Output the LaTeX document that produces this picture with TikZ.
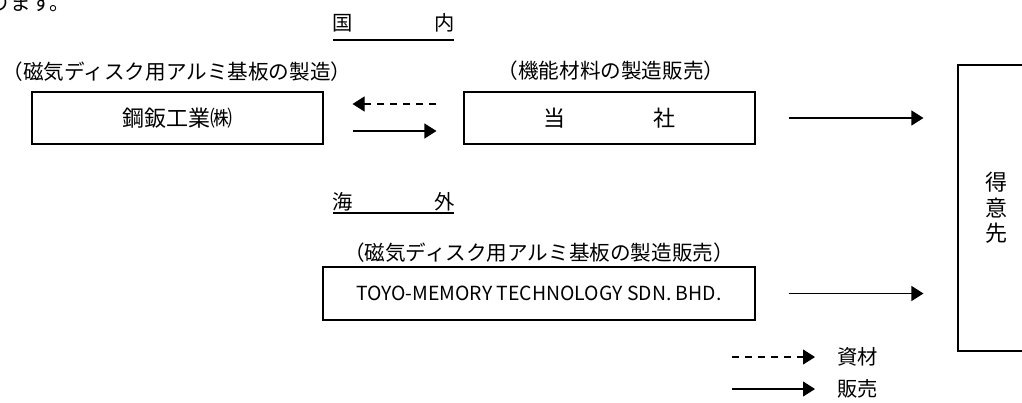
\documentclass[tikz,border=0pt]{standalone}
\usepackage{fontspec}
\setmainfont{Noto Sans CJK JP}
\usetikzlibrary{arrows.meta}

\begin{document}
\begin{tikzpicture}[x=1pt,y=-1pt,
        firmbox/.style={draw, line width=1.1pt, minimum width=291pt, minimum height=52pt,
            inner sep=0pt, font=\fontsize{22}{26}\selectfont},
        caption/.style={inner sep=0pt, font=\fontsize{20.6}{24}\selectfont},
        sales/.style={line width=1.1pt, -{Triangle[length=12pt,width=15pt]}},
        supply/.style={sales, dash pattern=on 7pt off 6pt}]
    \useasboundingbox (0,0) rectangle (1022,402);
    \clip (0,0) rectangle (1022,402);

    % Line cut off above the picture
    \node[caption, anchor=west] (prevline) at (-10,3) {ります。};

    % Headings
    \node[caption, font=\fontsize{20.3}{24}\selectfont] (kokunai) at (393.5,23) {国　　　　内};
    \draw[line width=1.1pt] (333,40) -- (454,40);
    \node[caption, font=\fontsize{20.3}{24}\selectfont] (kaigai) at (393.5,202) {海　　　　外};
    \draw[line width=1.1pt] (333,213) -- (454,213);

    % Companies
    \node[caption] (kohancap) at (177,72) {（磁気ディスク用アルミ基板の製造）};
    \node[firmbox] (kohan) at (177.5,118) {鋼鈑工業㈱};
    \node[caption] (toshacap) at (611,71) {（機能材料の製造販売）};
    \node[firmbox] (tosha) at (609.5,118) {当　　　　社};
    \node[caption] (toyocap) at (539,253) {（磁気ディスク用アルミ基板の製造販売）};
    \node[firmbox, minimum width=432pt, minimum height=53pt, font=\fontsize{19.4}{24}\selectfont]
        (toyo) at (539,293.5) {TOYO-MEMORY TECHNOLOGY SDN. BHD.};

    % Customers
    \node[firmbox, minimum width=76pt, minimum height=286pt, align=center,
        font=\fontsize{22}{25.5}\selectfont] (tokui) at (996,208) {得\\意\\先};

    % Arrows
    \draw[supply, shorten <=27pt, shorten >=29pt] ([yshift=14pt]tosha.west) -- ([yshift=14pt]kohan.east);
    \draw[sales, shorten <=29pt, shorten >=27pt] ([yshift=-13pt]kohan.east) -- ([yshift=-13pt]tosha.west);
    \draw[sales, shorten <=33pt, shorten >=34pt] (tosha.east) -- (tosha.east -| tokui.west);
    \draw[sales, shorten <=33pt, shorten >=34pt] (toyo.east) -- (toyo.east -| tokui.west);

    % Legend
    \coordinate (supplyfrom) at (732,357);
    \node[caption, font=\fontsize{20.3}{24}\selectfont, anchor=west] (supplykey) at (837,357) {資材};
    \draw[supply, shorten >=22pt] (supplyfrom) -- (supplykey.west);
    \coordinate (salesfrom) at (732,389);
    \node[caption, font=\fontsize{20.3}{24}\selectfont, anchor=west] (saleskey) at (837,389) {販売};
    \draw[sales, shorten >=22pt] (salesfrom) -- (saleskey.west);
\end{tikzpicture}
\end{document}
